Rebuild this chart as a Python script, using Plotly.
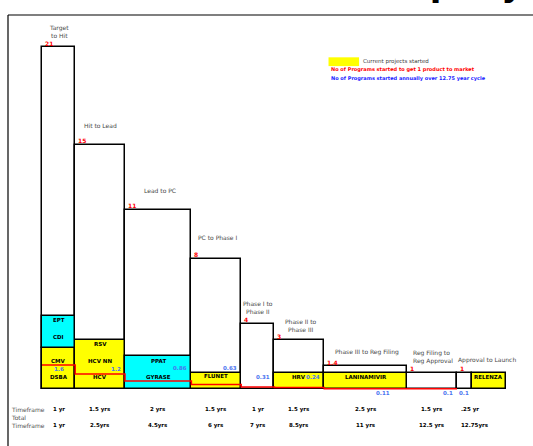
import plotly.graph_objects as go

# ---- pipeline stages -------------------------------------------------------
stages = ["Target<br>to Hit", "Hit to Lead", "Lead to PC", "PC to Phase I",
          "Phase I to<br>Phase II", "Phase II to<br>Phase III",
          "Phase III to Reg Filing", "Reg Filing to<br>Reg Approval",
          "Approval to Launch"]
programs_needed = [21, 15, 11, 8, 4, 3, 1.4, 1, 1]
programs_text = ["21", "15", "11", "8", "4", "3", "1.4", "1", "1"]
stage_span_yrs = [1, 1.5, 2, 1.5, 1, 1.5, 2.5, 1.5, 0.45]
timeframe = ["1 yr", "1.5 yrs", "2 yrs", "1.5 yrs", "1 yr", "1.5 yrs",
             "2.5 yrs", "1.5 yrs", ".25 yr"]
total_timeframe = ["1 yr", "2.5yrs", "4.5yrs", "6 yrs", "7 yrs", "8.5yrs",
                   "11 yrs", "12.5 yrs", "12.75yrs"]
annual_starts = ["1.6", "1.2", "0.86", "0.63", "0.31", "0.24", "0.11", "0.1", "0.1"]
# step line of programs started per stage
started_line = [1.47, 0.92, 0.49, 0.28, 0.12, 0.09, 0.01, 0.01]

# current projects: stage index, bottom, top, colour, names
projects = [
    (0, 0.0, 2.5, "#ffff00", ["CMV", "DSBA"]),
    (0, 2.5, 4.5, "#00ffff", ["EPT", "CDI"]),
    (1, 0.0, 3.0, "#ffff00", ["RSV", "HCV NN", "HCV"]),
    (2, 0.0, 2.0, "#00ffff", ["PPAT", "GYRASE"]),
    (3, 0.0, 1.0, "#ffff00", ["FLUNET"]),
    (5, 0.0, 1.0, "#ffff00", ["HRV"]),
    (6, 0.0, 1.0, "#ffff00", ["LANINAMIVIR"]),
]
launched_name = "RELENZA"
launched_span = 1.02
launched_height = 1.0

# ---- geometry helpers ------------------------------------------------------
starts = []
acc = 0.0
for w in stage_span_yrs:
    starts.append(acc)
    acc += w
ends = [s + w for s, w in zip(starts, stage_span_yrs)]
centers = [(s + e) / 2 for s, e in zip(starts, ends)]

FONT = "DejaVu Sans"
fig = go.Figure()

# stage columns
fig.add_trace(go.Bar(
    x=centers, y=programs_needed, width=stage_span_yrs, base=0,
    marker=dict(color="white", line=dict(color="black", width=1.5)),
    hoverinfo="skip", showlegend=False))

# project boxes
for colour in ["#ffff00", "#00ffff"]:
    sel = [p for p in projects if p[3] == colour]
    fig.add_trace(go.Bar(
        x=[centers[p[0]] for p in sel],
        y=[p[2] - p[1] for p in sel],
        base=[p[1] for p in sel],
        width=[stage_span_yrs[p[0]] for p in sel],
        marker=dict(color=colour, line=dict(color="black", width=1.5)),
        hoverinfo="skip", showlegend=False))

# launched product
fig.add_trace(go.Bar(
    x=[ends[-1] + launched_span / 2], y=[launched_height], base=0,
    width=[launched_span],
    marker=dict(color="#ffff00", line=dict(color="black", width=1.5)),
    hoverinfo="skip", showlegend=False))

# red step line
fig.add_trace(go.Scatter(
    x=starts[:len(started_line)] + [ends[len(started_line) - 1]],
    y=started_line + [started_line[-1]],
    mode="lines", line=dict(color="#ff0000", width=1.5, shape="hv"),
    hoverinfo="skip", showlegend=False))

ann = []


def label(x, y, text, size=6, color="#404040", bold=False, xanchor="center",
          yanchor="middle", xshift=0, yshift=0, align="center"):
    if bold:
        text = "<b>" + text + "</b>"
    ann.append(dict(x=x, y=y, text=text, showarrow=False, xanchor=xanchor,
                    yanchor=yanchor, xshift=xshift, yshift=yshift, align=align,
                    font=dict(family=FONT, size=size, color=color)))


# stage names above the columns
stage_label_pos = [(0.5, 21.95), (1.75, 16.2), (3.55, 12.2), (5.3, 9.3),
                   (6.5, 5.0), (7.8, 3.9), (9.8, 2.27), (11.1, 1.95), (13.4, 1.8)]
stage_anchor = ["center", "center", "center", "center", "center", "center",
                "center", "left", "center"]
for (x, y), t, a in zip(stage_label_pos, stages, stage_anchor):
    label(x, y, t, size=6, color="#484848", xanchor=a,
          align="left" if a == "left" else "center")

# red counts on top-left corner of each column
for s, v, t in zip(starts, programs_needed, programs_text):
    label(s, v, t, size=6, color="#ff0000", bold=True, xanchor="left",
          yanchor="bottom", xshift=1, yshift=-1.5)

# project names
slot_y = {"CMV": 1.72, "DSBA": 0.74, "EPT": 4.24, "CDI": 3.19, "RSV": 2.76,
          "HCV NN": 1.72, "HCV": 0.74, "PPAT": 1.72, "GYRASE": 0.74,
          "FLUNET": 0.8, "HRV": 0.74, "LANINAMIVIR": 0.74}
for p in projects:
    for name in p[4]:
        label(centers[p[0]], slot_y[name], name, size=5.5, color="black", bold=True)
label(ends[-1] + launched_span / 2, 0.74, launched_name, size=5.5, color="black",
      bold=True)

# annual program starts (blue)
blue_pos = [(centers[0], 1.23, "center"), (ends[1], 1.23, "right"),
            (ends[2], 1.27, "right"), (ends[3], 1.27, "right"),
            (ends[4], 0.74, "right"), (ends[5], 0.74, "right"),
            (10.27, -0.27, "center"), (ends[7], -0.27, "right"),
            (centers[8], -0.27, "center")]
for (x, y, a), t in zip(blue_pos, annual_starts):
    label(x, y, t, size=5.5, color="#4a74f0", bold=True, xanchor=a,
          xshift=-2 if a == "right" else 0)

# timeframe rows
row1_y, row_total_y, row2_y = -1.24, -1.72, -2.27
label(-0.98, row1_y, "Timeframe", size=6, color="#505050", xanchor="left")
label(-0.98, row_total_y, "Total", size=6, color="#505050", xanchor="left")
label(-0.98, row2_y, "Timeframe", size=6, color="#505050", xanchor="left")
for i, (c, t1, t2) in enumerate(zip(centers, timeframe, total_timeframe)):
    if i == len(centers) - 1:
        label(starts[i], row1_y, t1, size=5.5, color="black", bold=True,
              xanchor="left", xshift=2)
        label(starts[i], row2_y, t2, size=5.5, color="black", bold=True,
              xanchor="left", xshift=2)
    else:
        label(c, row1_y, t1, size=5.5, color="black", bold=True)
        label(c, row2_y, t2, size=5.5, color="black", bold=True)

# legend block
label(9.6, 20.1, "Current projects started", size=5.5, color="#404040",
      xanchor="left")
label(8.63, 19.6, "No of Programs started to get 1 product to market", size=5,
      color="#ff0000", bold=True, xanchor="left")
label(8.63, 19.1, "No of Programs started annually over 12.75 year cycle", size=5,
      color="#1a1aff", bold=True, xanchor="left")

# heading (runs off the top of the page)
ann.append(dict(x=0.985, y=1.0, xref="paper", yref="paper", text="<b>Company</b>",
                showarrow=False, xanchor="right", yanchor="bottom", yshift=-6,
                font=dict(family="Verdana, DejaVu Sans", size=34, color="black")))

shapes = [
    # legend swatch
    dict(type="rect", x0=8.63, x1=9.55, y0=19.83, y1=20.37, xref="x", yref="y",
         fillcolor="#ffff00", line=dict(width=0)),
    # frame lines
    dict(type="line", xref="paper", yref="paper", x0=8 / 533, x1=1,
         y0=1 - 15 / 446, y1=1 - 15 / 446, line=dict(color="black", width=1.2)),
    dict(type="line", xref="paper", yref="paper", x0=8 / 533, x1=8 / 533,
         y0=0, y1=1 - 15 / 446, line=dict(color="black", width=1.2)),
]

fig.update_layout(
    width=533, height=446,
    margin=dict(l=0, r=0, t=0, b=0, pad=0),
    paper_bgcolor="white", plot_bgcolor="white",
    barmode="overlay", bargap=0,
    xaxis=dict(range=[-1.265, 14.789], visible=False, fixedrange=True),
    yaxis=dict(range=[-3.50, 23.89], visible=False, fixedrange=True),
    annotations=ann, shapes=shapes,
    showlegend=False,
)

fig.write_html("out.html")
